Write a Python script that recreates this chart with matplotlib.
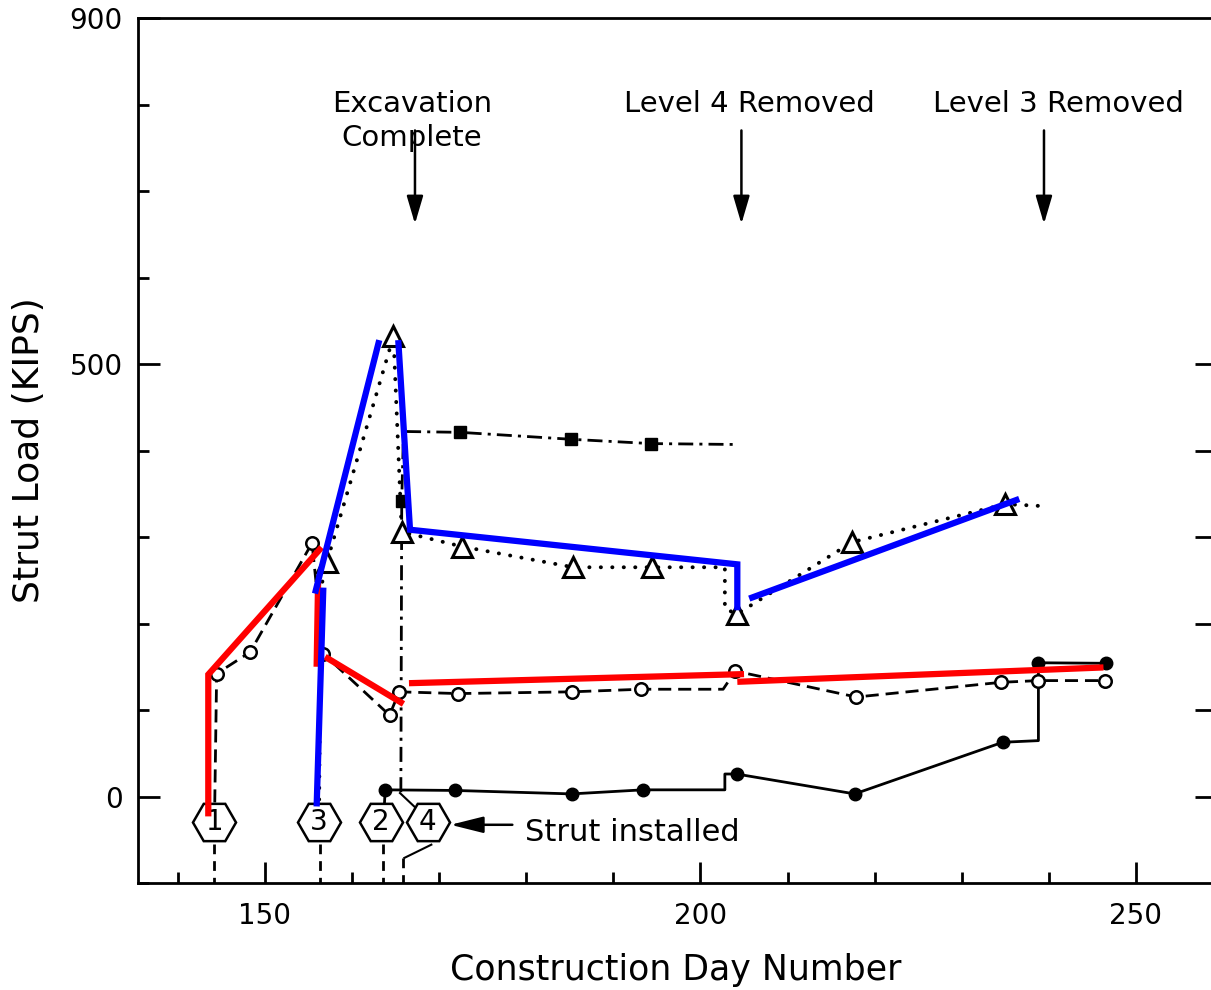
import numpy as np
import matplotlib
matplotlib.use("Agg")
import matplotlib.pyplot as plt

plt.rcParams['font.family'] = ['DejaVu Sans']

# strut 1 - dashed line, open circles
s1_line_x = [144.2, 144.45, 148.3, 155.4, 156.7, 164.3, 165.4, 172.2, 185.2, 193.2, 202.6, 204.0, 217.9, 234.5, 238.8, 246.5]
s1_line_y = [-30, 142, 167, 293, 165, 94, 121, 119, 121, 124, 124, 145, 115, 132, 134, 134]
s1_pts_x = [144.45, 148.3, 155.4, 156.7, 164.3, 165.4, 172.2, 185.2, 193.2, 204.0, 217.9, 234.5, 238.8, 246.5]
s1_pts_y = [142, 167, 293, 165, 94, 121, 119, 121, 124, 145, 115, 132, 134, 134]

# strut 3 - dotted line, open triangles
s3_line_x = [156.2, 156.4, 157.1, 164.75, 165.7, 172.6, 185.4, 194.4, 202.8, 202.8, 204.2, 217.4, 235.0, 238.8]
s3_line_y = [-30, 240, 271, 532, 306, 289, 265, 265, 265, 217, 211, 294, 338, 336]
s3_pts_x = [157.1, 164.75, 165.7, 172.6, 185.4, 194.4, 204.2, 217.4, 235.0]
s3_pts_y = [271, 532, 306, 289, 265, 265, 211, 294, 338]

# strut 4 - dash-dot line, filled squares
s4_line_x = [165.6, 165.7, 165.9, 172.4, 185.1, 194.3, 203.7]
s4_line_y = [5, 342, 422, 421, 413, 408, 407]
s4_pts_x = [165.7, 172.4, 185.1, 194.3]
s4_pts_y = [342, 421, 413, 408]

# strut 2 - solid line, filled circles
s2_line_x = [163.6, 163.8, 171.8, 185.2, 193.4, 202.8, 202.8, 204.15, 217.7, 234.7, 238.8, 238.8, 246.6]
s2_line_y = [-30, 7.7, 7, 3, 7.7, 7.7, 26, 26, 3, 62.7, 64.6, 154.6, 154]
s2_pts_x = [163.8, 171.8, 185.2, 193.4, 204.15, 217.7, 234.7, 238.8, 246.6]
s2_pts_y = [7.7, 7, 3, 7.7, 26, 3, 62.7, 154.6, 154]

# strut installation hexagons
hex_labels = ['1', '3', '2', '4']
hex_x = [144.2, 156.2, 163.3, 168.7]
hex_y = [-30, -30, -30, -30]
below_x = [144.1, 156.3, 163.6, 165.9]

# hand drawn overlay strokes
red_strokes = [
    ([143.49, 143.49, 156.5], [-23, 141, 288]),
    ([156.1, 155.93], [250, 150]),
    ([156.9, 165.9], [161.5, 107]),
    ([166.53, 205.0], [131, 141.5]),
    ([204.23, 246.27], [132.6, 149.2]),
]
blue_strokes = [
    ([155.74, 163.12], [234.6, 527.6]),
    ([156.7, 155.93], [241.5, -11.5]),
    ([165.3, 166.65, 204.23, 204.23], [527.6, 308.4, 268.4, 215.3]),
    ([205.6, 236.6], [228.8, 344]),
]

events = ['Excavation\nComplete', 'Level 4 Removed', 'Level 3 Removed']
event_text_x = [166.9, 205.57, 241.05]
event_arrow_x = [167.22, 204.7, 239.44]

fig = plt.figure(figsize=(12.11, 9.9), dpi=100)
ax = fig.add_axes([138 / 1211, 107 / 990, 1076 / 1211, 865 / 990])
ax.set_xlim(135.42, 258.96)
ax.set_ylim(-100, 900)

ax.plot(s1_line_x, s1_line_y, color='k', lw=2, ls=(0, (4.7, 2.5)), zorder=3)
ax.plot(s1_pts_x, s1_pts_y, 'o', ms=9, mfc='white', mec='k', mew=1.8, zorder=4)

ax.plot(s3_line_x, s3_line_y, color='k', lw=2.8, ls=(0, (0.05, 2.9)),
        dash_capstyle='round', zorder=3)
ax.plot(s3_pts_x, s3_pts_y, '^', ms=15, mfc='white', mec='k', mew=2.2, zorder=4)

ax.plot(s4_line_x, s4_line_y, color='k', lw=2, ls=(0, (5.4, 2.2, 1.1, 2.2)), zorder=3)
ax.plot(s4_pts_x, s4_pts_y, 's', ms=9, color='k', zorder=4)

ax.plot(s2_line_x, s2_line_y, color='k', lw=2, zorder=3)
ax.plot(s2_pts_x, s2_pts_y, 'o', ms=9, color='k', zorder=4)

# hexagon markers with strut numbers
ax.plot(hex_x, hex_y, 'H', ms=31, mfc='white', mec='k', mew=1.8, ls='none', zorder=5)
for lab, hx, hy in zip(hex_labels, hex_x, hex_y):
    ax.text(hx, hy, lab, ha='center', va='center', fontsize=20, zorder=6)

# dashed leaders below hexagons
for bx in below_x[:3]:
    ax.plot([bx, bx], [-55, -100], color='k', lw=2, ls=(0, (3.5, 2.5)), zorder=3)
ax.plot([169.1, 166.0], [-55.7, -71], color='k', lw=1.5, zorder=3)
ax.plot([below_x[3], below_x[3]], [-71, -100], color='k', lw=2, ls=(0, (3.5, 2.5)), zorder=3)
ax.plot([165.5, 167.5], [4, -15], color='k', lw=1.5, zorder=3)

ax.annotate('', xy=(171.3, -32.7), xytext=(178.4, -32.7),
            arrowprops=dict(arrowstyle='-|>,head_length=1.0,head_width=0.25',
                            mutation_scale=20, lw=1.8, color='k',
                            shrinkA=0, shrinkB=0))
ax.text(179.85, -42, 'Strut installed', ha='left', va='center', fontsize=22)

for txt, tx, axx in zip(events, event_text_x, event_arrow_x):
    ax.text(tx, 781 if '\n' in txt else 800, txt, ha='center', va='center',
            fontsize=21, linespacing=1.3)
    ax.annotate('', xy=(axx, 662), xytext=(axx, 770),
                arrowprops=dict(arrowstyle='-|>,head_length=0.85,head_width=0.25',
                                mutation_scale=20, lw=1.8, color='k',
                                shrinkA=0, shrinkB=0))

for xs, ys in red_strokes:
    ax.plot(xs, ys, color='#ff0000', lw=4.5, solid_capstyle='butt',
            solid_joinstyle='miter', zorder=8)
for xs, ys in blue_strokes:
    ax.plot(xs, ys, color='#0000ff', lw=4.5, solid_capstyle='butt',
            solid_joinstyle='miter', zorder=8)

ax.set_xticks([150, 200, 250])
ax.set_xticks(np.arange(140, 260, 10), minor=True)
ax.set_yticks([0, 500, 900])
ax.set_yticks(np.arange(-100, 901, 100), minor=True)
ax.tick_params(axis='x', which='major', direction='in', length=15, width=2,
               labelsize=20, pad=14, top=False)
ax.tick_params(axis='x', which='minor', direction='in', length=8, width=2, top=False)
ax.tick_params(axis='y', which='major', direction='in', length=16, width=2,
               labelsize=20, pad=11, right=False)
ax.tick_params(axis='y', which='minor', direction='in', length=8, width=2, right=False)
for s in ax.spines.values():
    s.set_linewidth(2)

ax2 = ax.twinx()
ax2.set_ylim(ax.get_ylim())
ax2.set_yticks(np.arange(0, 501, 100))
ax2.set_yticklabels([])
ax2.tick_params(axis='y', direction='in', length=14, width=2)
for s in ax2.spines.values():
    s.set_visible(False)

ax.set_xlabel('Construction Day Number', fontsize=25, labelpad=16)
ax.set_ylabel('Strut Load (KIPS)', fontsize=26, labelpad=17)

fig.savefig('out.png', dpi=100, facecolor='white')
